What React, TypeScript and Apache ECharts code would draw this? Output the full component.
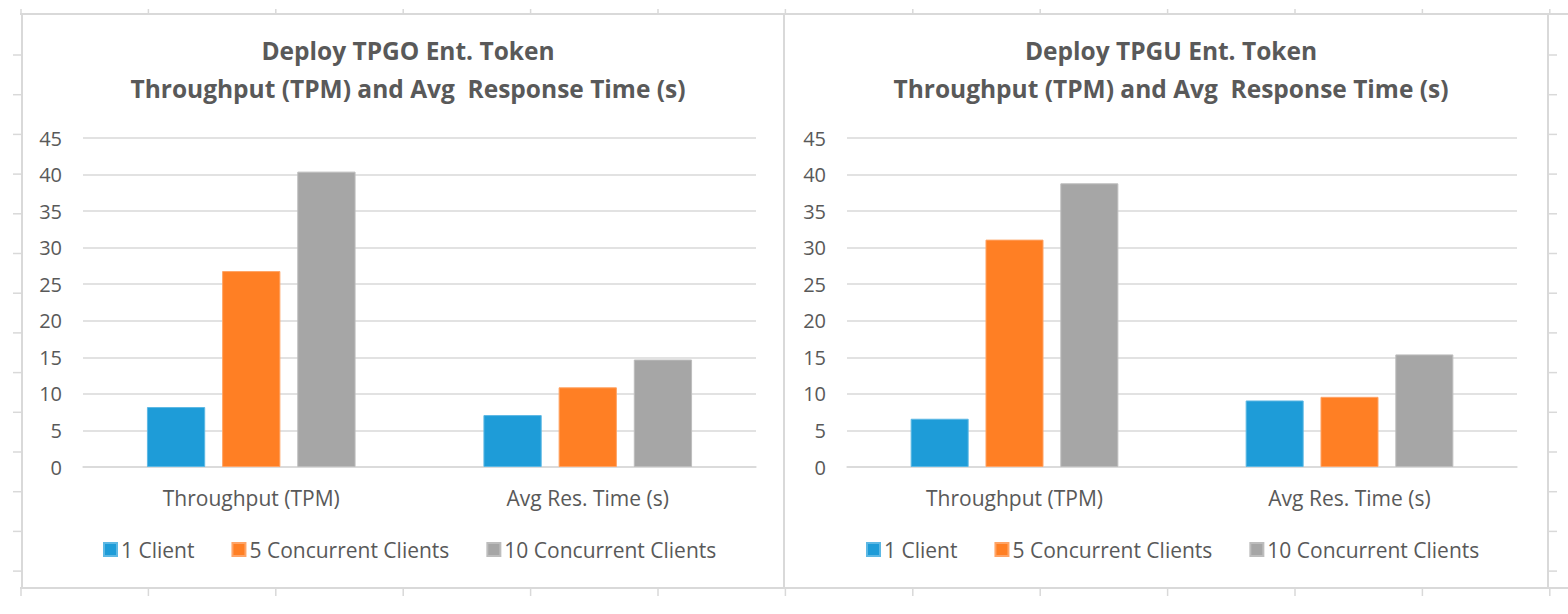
import React, { useEffect, useRef } from "react";
import * as echarts from "echarts";

const categories = ["Throughput (TPM)", "Avg Res. Time (s)"];
const seriesNames = ["1 Client", "5 Concurrent Clients", "10 Concurrent Clients"];
const colors = ["#1E9CD8", "#FF7F24", "#A6A6A6"];
const borders = ["#5DB8E4", "#FFA466", "#BDBDBD"];

// Left chart: Deploy TPGO
const tpgoOneClient = [8.2, 7.1];
const tpgoFiveClients = [26.8, 10.9];
const tpgoTenClients = [40.4, 14.7];

// Right chart: Deploy TPGU
const tpguOneClient = [6.6, 9.1];
const tpguFiveClients = [31.1, 9.6];
const tpguTenClients = [38.8, 15.4];

const titleLeft = "Deploy TPGO Ent. Token\nThroughput (TPM) and Avg  Response Time (s)";
const titleRight = "Deploy TPGU Ent. Token\nThroughput (TPM) and Avg  Response Time (s)";

const FONT = "'Open Sans', Lato, sans-serif";
const TEXT = "#595959";
const FRAME = "#D9D9D9";

export default function App() {
  const ref = useRef<HTMLDivElement>(null);
  useEffect(() => {
    document.body.style.margin = "0";
    const chart = echarts.init(ref.current!, null, { renderer: "svg" });

    const offset = 764;
    const grids = [
      { left: 83, width: 673, top: 138, height: 329 },
      { left: 83 + offset, width: 670, top: 138, height: 329 },
    ];

    const mkSeries = (data: number[][], gi: number) =>
      data.map((d, i) => ({
        type: "bar",
        name: seriesNames[i],
        xAxisIndex: gi,
        yAxisIndex: gi,
        data: d,
        barGap: "29%",
        barCategoryGap: "38%",
        itemStyle: { color: colors[i], borderColor: borders[i], borderWidth: 1 },
      }));

    // Spreadsheet cell grid marks behind the charts
    const graphics: any[] = [];
    const lineStyle = { stroke: FRAME, lineWidth: 2 };
    graphics.push({ type: "line", shape: { x1: 20, y1: 14, x2: 1568, y2: 14 }, style: lineStyle, silent: true });
    graphics.push({ type: "line", shape: { x1: 20, y1: 588, x2: 1568, y2: 588 }, style: lineStyle, silent: true });
    [22, 784, 1548].forEach((x) =>
      graphics.push({ type: "line", shape: { x1: x, y1: 14, x2: x, y2: 588 }, style: lineStyle, silent: true })
    );
    for (let y = 55; y < 588; y += 39.7) {
      graphics.push({ type: "line", shape: { x1: 13, y1: y, x2: 22, y2: y }, style: { stroke: FRAME, lineWidth: 1.5 }, silent: true });
      graphics.push({ type: "line", shape: { x1: 1548, y1: y, x2: 1557, y2: y }, style: { stroke: FRAME, lineWidth: 1.5 }, silent: true });
    }
    for (let x = 21; x < 1568; x += 127.4) {
      graphics.push({ type: "line", shape: { x1: x, y1: 9, x2: x, y2: 14 }, style: { stroke: FRAME, lineWidth: 1.5 }, silent: true });
      graphics.push({ type: "line", shape: { x1: x, y1: 588, x2: x, y2: 596 }, style: { stroke: FRAME, lineWidth: 1.5 }, silent: true });
    }

    const axisX = (gi: number) => ({
      type: "category",
      gridIndex: gi,
      data: categories,
      axisLine: { show: true, lineStyle: { color: FRAME, width: 1.5 } },
      axisTick: { show: false },
      axisLabel: { color: TEXT, fontFamily: FONT, fontSize: 21, margin: 20 },
    });
    const axisY = (gi: number) => ({
      type: "value",
      gridIndex: gi,
      min: 0,
      max: 45,
      interval: 5,
      axisLine: { show: false },
      axisTick: { show: false },
      splitLine: { lineStyle: { color: FRAME, width: 1.5 } },
      axisLabel: { color: TEXT, fontFamily: FONT, fontSize: 20, margin: 21 },
    });

    const legendCommon = {
      data: seriesNames,
      top: 534,
      itemWidth: 13,
      itemHeight: 13,
      itemGap: 37,
      icon: "rect",
      textStyle: { color: TEXT, fontFamily: FONT, fontSize: 21, padding: [0, 0, 0, -1] },
    };

    const titleStyle = {
      color: TEXT,
      fontFamily: FONT,
      fontSize: 24.5,
      fontWeight: "bold",
      lineHeight: 38,
    };

    chart.setOption({
      animation: false,
      backgroundColor: "#FFFFFF",
      title: [
        { text: titleLeft, left: 403, top: 26, textAlign: "center", textStyle: titleStyle },
        { text: titleRight, left: 1166, top: 26, textAlign: "center", textStyle: titleStyle },
      ],
      legend: [
        { ...legendCommon, left: 98 },
        { ...legendCommon, left: 861 },
      ],
      grid: grids,
      xAxis: [axisX(0), axisX(1)],
      yAxis: [axisY(0), axisY(1)],
      graphic: graphics,
      series: [
        ...mkSeries([tpgoOneClient, tpgoFiveClients, tpgoTenClients], 0),
        ...mkSeries([tpguOneClient, tpguFiveClients, tpguTenClients], 1),
      ],
    });
    return () => chart.dispose();
  }, []);
  return <div ref={ref} style={{ width: 1568, height: 614 }} />;
}
